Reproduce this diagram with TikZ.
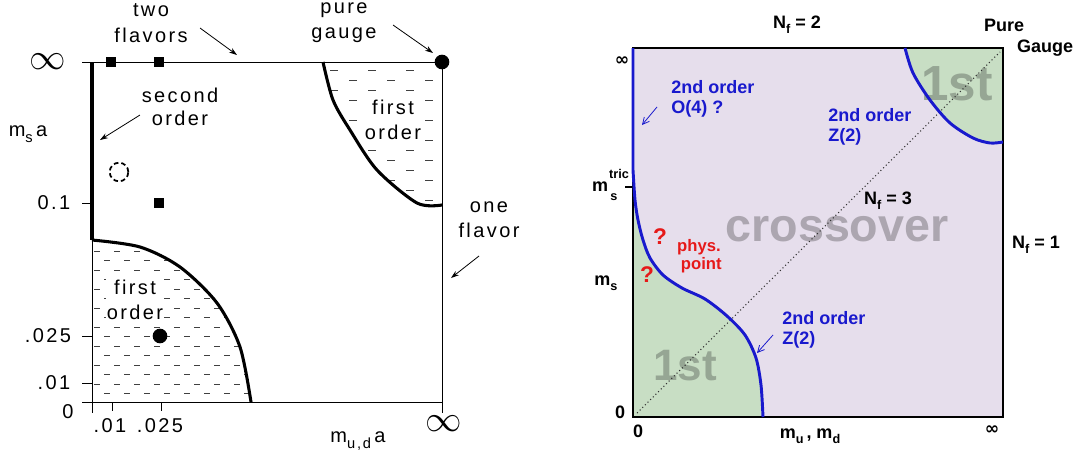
\documentclass[tikz,border=0pt]{standalone}
\usepackage{fontspec}
\setmainfont{Liberation Sans}
\newfontfamily\plotfont[LetterSpace=12]{Liberation Sans}
\newfontfamily\symfont{DejaVu Sans}
\usetikzlibrary{arrows.meta}
\definecolor{lav}{RGB}{230,222,236}
\definecolor{grn}{RGB}{200,222,196}
\definecolor{myblue}{RGB}{25,25,205}
\definecolor{myred}{RGB}{230,25,25}
\definecolor{greytxt}{RGB}{172,166,176}
\definecolor{greygrn}{RGB}{150,166,148}
\newcommand\lowsub[1]{\raisebox{-0.55ex}{\fontsize{9.5}{9.5}\selectfont #1}}
\newcommand\lowsubL[1]{\raisebox{-0.55ex}{\fontsize{11}{11}\selectfont #1}}
\begin{document}
\begin{tikzpicture}[x=0.75pt,y=-0.75pt,
  ltxt/.style={font=\plotfont\fontsize{15}{18}\selectfont, inner sep=0pt, align=center},
  rtxt/.style={font=\bfseries\fontsize{13.5}{15}\selectfont, inner sep=0pt},
  btxt/.style={rtxt, text=myblue, align=left, anchor=west},
  thickline/.style={line width=2.3pt},
  thinline/.style={line width=0.6pt},
  larrow/.style={-{Stealth[length=6pt,width=4pt]}, line width=0.6pt},
  barrow/.style={-{Straight Barb[length=5pt,width=5pt]}, myblue, line width=0.6pt},
  dsh/.style={line width=0.55pt, black!75},
  sq/.style={fill=black, minimum size=7pt, inner sep=0pt},
  bigdot/.style={circle, fill=black, minimum size=11pt, inner sep=0pt},
  bigtxt/.style={font=\bfseries\fontsize{#1}{#1}\selectfont, inner sep=0pt}
]
\useasboundingbox (0,0) rectangle (1082,461);

% ================= LEFT PANEL =================
% hatching of first-order regions
\begin{scope}
  \clip plot[smooth] coordinates {(92,240) (140,247) (180,267) (217,303) (240,347) (251,402)} -- (92,402) -- cycle;
  \foreach \i in {0,...,15} {
    \pgfmathsetmacro\yy{251+9.5*\i}
    \pgfmathsetmacro\off{mod(\i,2)*10}
    \foreach \j in {0,...,8} {
      \draw[dsh] ({94+\off+20*\j},\yy) -- ++(6,0);
    }
  }
\end{scope}
\begin{scope}
  \clip plot[smooth] coordinates {(323,62) (333,100) (350,130) (377,170) (417,203) (442,205)} -- (442,62) -- cycle;
  \foreach \i in {0,...,13} {
    \pgfmathsetmacro\yy{70+10*\i}
    \pgfmathsetmacro\off{mod(\i,2)*19}
    \foreach \j in {0,...,4} {
      \draw[dsh] ({330+\off+38*\j},\yy) -- ++(8,0);
    }
  }
\end{scope}

% axes
\draw[thinline] (82,62) -- (442,62);
\draw[thinline] (442,62) -- (442,413);
\draw[thinline] (82,402) -- (442,402);
\draw[thinline] (92,62) -- (92,413);
\foreach \yy in {203,336,383} { \draw[thinline] (82,\yy) -- (92,\yy); }
\foreach \xx in {112,161} { \draw[thinline] (\xx,402) -- (\xx,411); }

% thick boundaries
\draw[thickline] (92,62) -- (92,240);
\draw[thickline] plot[smooth] coordinates {(92,240) (140,247) (180,267) (217,303) (240,347) (251,402)};
\draw[thickline] plot[smooth] coordinates {(323,62) (333,100) (350,130) (377,170) (417,203) (442,205)};

% markers
\node[sq] (s1) at (111,62) {};
\node[sq] (s2) at (159,62) {};
\node[sq] (s3) at (159,203) {};
\node[bigdot] (pg) at (442,62) {};
\node[bigdot] (d2) at (160,336) {};
\node[circle, draw, dash pattern=on 3.5pt off 2.2pt, line width=1.3pt, minimum size=14pt, inner sep=0pt] (dc) at (119,172) {};

% labels
\node[ltxt] (inf1) at (48,62) {\scalebox{1.9}{$\infty$}};
\node[ltxt] (msa) at (28,134) {m\lowsubL{s}\,a};
\node[ltxt] (l01) at (54,203) {0.1};
\node[ltxt] (l025) at (48,336) {.025};
\node[ltxt] (l001) at (54,383) {.01};
\node[ltxt] (l0) at (68,412) {0};
\node[ltxt] (b01) at (110,426) {.01};
\node[ltxt] (b025) at (160,426) {.025};
\node[ltxt] (inf2) at (444,424) {\scalebox{1.9}{$\infty$}};
\node[ltxt] (mud) at (358,441) {m\lowsubL{u,d}\,a};
\node[ltxt, font=\plotfont\fontsize{15}{19}\selectfont] (two) at (151,23) {two\\flavors};
\node[ltxt, font=\plotfont\fontsize{15}{19}\selectfont] (pure) at (344,23) {pure\\gauge};
\node[ltxt, font=\plotfont\fontsize{15}{17.5}\selectfont] (sec) at (180,107) {second\\order};
\node[ltxt, font=\plotfont\fontsize{15}{19}\selectfont] (one) at (489,220) {one\\flavor};
\node[ltxt, fill=white, inner sep=1pt, font=\plotfont\fontsize{15}{18.5}\selectfont] (fo1) at (393,120) {first\\order};
\node[ltxt, fill=white, inner sep=1pt, font=\plotfont\fontsize{15}{19}\selectfont] (fo2) at (135,300) {first\\order};

% arrows
\coordinate (a1s) at (200,28); \coordinate (a1e) at (237,55);
\coordinate (a2s) at (393,25); \coordinate (a2e) at (433,53);
\coordinate (a3s) at (140,115); \coordinate (a3e) at (100,140);
\coordinate (a4s) at (479,256); \coordinate (a4e) at (451,278);
\draw[larrow] (a1s) -- (a1e);
\draw[larrow] (a2s) -- (a2e);
\draw[larrow] (a3s) -- (a3e);
\draw[larrow] (a4s) -- (a4e);

% ================= RIGHT PANEL =================
\fill[lav] (633,48) rectangle (1003,417);
\fill[grn] plot[smooth] coordinates {(905,48) (913,73) (930,100) (950,123) (973,138) (990,143) (1003,142)} -- (1003,48) -- cycle;
\fill[grn] (633,48) -- plot[smooth] coordinates {(633,170) (635,200) (638,220) (643,240) (650,258) (663,275) (682,288) (705,299) (727,316) (745,335) (756,358) (761,385) (763,417)} -- (633,417) -- cycle;

% big grey texts
\node[bigtxt=37, text=greygrn] (first1) at (957,84) {1st};
\node[bigtxt=33, text=greygrn] (first2) at (685,366) {1st};
\node[bigtxt=35, text=greytxt, text height=0.52em, text depth=0pt] (cross) at (837,238) {crossover};

% dotted diagonal
\coordinate (dg0) at (637,413); \coordinate (dg1) at (1000,52);
\draw[dotted, line width=0.8pt, black!80] (dg0) -- (dg1);

% border
\draw[line width=2pt] (633,48) rectangle (1003,417);
\draw[line width=2pt] (625,187) -- (633,187);

% blue boundaries
\draw[myblue, line width=2.2pt] plot[smooth] coordinates {(905,48) (913,73) (930,100) (950,123) (973,138) (990,143) (1003,142)};
\draw[myblue, line width=2.2pt] (633,48) -- plot[smooth] coordinates {(633,170) (635,200) (638,220) (643,240) (650,258) (663,275) (682,288) (705,299) (727,316) (745,335) (756,358) (761,385) (763,417)};

% right labels
\node[rtxt] (nf2) at (797,25) {N\lowsub{f} = 2};
\node[rtxt] (pureR) at (1004,25) {Pure};
\node[rtxt] (gauge) at (1045,48) {Gauge};
\node[rtxt] (nf1) at (1036,245) {N\lowsub{f} = 1};
\node[rtxt] (nf3) at (888,201) {N\lowsub{f} = 3};
\node[rtxt, font=\symfont\bfseries\fontsize{13}{13}\selectfont] (infL) at (622,61) {∞};
\node[rtxt, font=\symfont\bfseries\fontsize{13}{13}\selectfont] (infB) at (992,430) {∞};
\node[rtxt] (mtr) at (600,187) {m};
\node[rtxt, font=\bfseries\fontsize{9.5}{9.5}\selectfont] (tric) at (619,174) {tric};
\node[rtxt, font=\bfseries\fontsize{9.5}{9.5}\selectfont] (trs) at (614,197) {s};
\node[rtxt] (ms) at (606,283) {m\lowsub{s}};
\node[rtxt] (zl) at (620,412) {0};
\node[rtxt] (zb) at (638,431) {0};
\node[rtxt] (mumd) at (810,436) {m\lowsub{u}\,, m\lowsub{d}};

\node[btxt] (o4) at (671,99) {2nd order\\O(4) ?};
\node[btxt] (z2a) at (828,127) {2nd order\\Z(2)};
\node[btxt] (z2b) at (782,330) {2nd order\\Z(2)};

\node[rtxt, text=myred, font=\bfseries\fontsize{17}{17}\selectfont] (q1) at (660,237) {?};
\node[rtxt, text=myred, font=\bfseries\fontsize{17}{17}\selectfont] (q2) at (647,275) {?};
\node[rtxt, text=myred, align=center, font=\bfseries\fontsize{12.5}{13.5}\selectfont] (phys) at (699,256) {phys.\\\ point};

% blue arrows
\coordinate (b1s) at (657,107); \coordinate (b1e) at (642,125);
\coordinate (b2s) at (773,335); \coordinate (b2e) at (757,353);
\draw[barrow] (b1s) -- (b1e);
\draw[barrow] (b2s) -- (b2e);
\end{tikzpicture}
\end{document}
